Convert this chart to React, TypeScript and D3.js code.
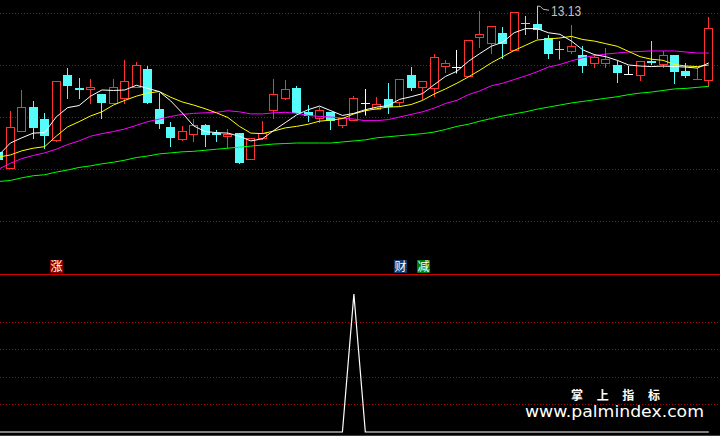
import React from "react";
import * as d3 from "d3";

// daily OHLC, oldest first (first bar is cut by the left edge)
const open = [
  10.33, 10.01, 10.73, 11.19, 10.96, 10.56, 11.81, 11.56, 11.53, 11.44,
  11.26, 11.37, 11.57, 11.92, 11.15, 10.81, 10.58, 10.68, 10.85, 10.7,
  10.64, 10.69, 10.2, 10.6, 11.14, 11.37, 11.56, 11.1, 10.99, 11.1,
  10.85, 10.95, 11.26, 11.16, 11.35, 11.29, 11.81, 11.58, 11.55, 11.99,
  11.96, 11.79, 12.53, 12.43, 12.62, 12.29, 12.81, 12.79, 12.52, 12.31,
  12.27, 12.19, 12.03, 12.04, 12.0, 11.83, 11.81, 12.08, 12.01, 12.19,
  11.88, 11.74, 11.72,
];
const high = [
  10.37, 11.12, 11.52, 11.31, 11.08, 11.69, 11.94, 11.75, 11.73, 11.44,
  11.73, 12.1, 12.06, 11.98, 11.46, 10.9, 10.83, 10.96, 10.87, 10.75,
  10.77, 10.69, 10.6, 10.92, 11.73, 11.71, 11.6, 11.23, 11.19, 11.1,
  10.99, 11.4, 11.54, 11.38, 11.65, 11.73, 11.96, 11.69, 12.21, 12.1,
  12.29, 12.48, 13.04, 12.75, 12.73, 13.02, 12.94, 13.13, 12.58, 12.46,
  12.77, 12.37, 12.22, 12.33, 12.08, 11.98, 12.08, 12.46, 12.27, 12.19,
  12.04, 11.94, 12.92,
];
const low = [
  10.13, 10.01, 10.73, 10.6, 10.4, 10.54, 11.37, 11.37, 11.26, 10.99,
  11.26, 11.27, 11.57, 11.26, 10.78, 10.45, 10.56, 10.54, 10.45, 10.54,
  10.43, 10.12, 10.2, 10.58, 10.99, 11.35, 11.07, 10.93, 10.91, 10.76,
  10.81, 10.95, 11.03, 11.16, 11.08, 11.22, 11.51, 11.35, 11.41, 11.87,
  11.85, 11.79, 12.35, 12.24, 12.14, 12.29, 12.6, 12.51, 12.14, 12.12,
  12.24, 11.87, 11.97, 11.97, 11.68, 11.83, 11.72, 12.02, 11.97, 11.66,
  11.76, 11.74, 11.6,
];
const close = [
  10.17, 10.81, 11.19, 10.79, 10.64, 11.69, 11.6, 11.51, 11.57, 11.27,
  11.57, 11.69, 12.0, 11.26, 10.87, 10.6, 10.73, 10.85, 10.66, 10.66,
  10.68, 10.12, 10.6, 10.69, 11.44, 11.54, 11.07, 11.01, 11.13, 10.93,
  10.99, 11.37, 11.26, 11.25, 11.2, 11.73, 11.56, 11.69, 12.15, 12.04,
  11.96, 12.48, 12.6, 12.75, 12.41, 13.02, 12.78, 12.68, 12.22, 12.3,
  12.37, 11.99, 12.15, 12.12, 11.85, 11.83, 12.08, 12.04, 12.19, 11.87,
  11.79, 11.75, 12.71,
];

// moving averages
const ma5 = [
  10.27, 10.5, 10.6, 10.69, 10.7, 11.0, 11.18, 11.22, 11.4, 11.52,
  11.51, 11.52, 11.61, 11.55, 11.49, 11.31, 11.08, 10.83, 10.72, 10.7,
  10.69, 10.63, 10.54, 10.58, 10.74, 10.89, 11.04, 11.14, 11.21, 11.12,
  11.03, 11.07, 11.14, 11.19, 11.22, 11.34, 11.39, 11.45, 11.62, 11.78,
  11.88, 12.07, 12.22, 12.36, 12.44, 12.62, 12.7, 12.7, 12.62, 12.59,
  12.46, 12.29, 12.2, 12.16, 12.09, 12.0, 11.98, 11.97, 11.98, 11.97,
  11.96, 11.94, 12.04,
];
const ma10 = [
  10.23, 10.27, 10.35, 10.4, 10.43, 10.63, 10.81, 10.91, 11.02, 11.1,
  11.23, 11.32, 11.4, 11.46, 11.49, 11.38, 11.29, 11.23, 11.16, 11.08,
  10.99, 10.82, 10.69, 10.68, 10.73, 10.79, 10.82, 10.86, 10.92, 10.94,
  10.97, 11.06, 11.12, 11.16, 11.19, 11.2, 11.24, 11.32, 11.44, 11.54,
  11.65, 11.77, 11.9, 12.04, 12.16, 12.28, 12.38, 12.48, 12.5, 12.52,
  12.55, 12.49, 12.46, 12.41, 12.36, 12.26, 12.16, 12.11, 12.09, 12.01,
  11.98, 11.97, 12.0,
];
const ma20 = [
  10.0, 10.11, 10.2, 10.26, 10.31, 10.38, 10.47, 10.54, 10.63, 10.68,
  10.72, 10.77, 10.84, 10.91, 10.96, 11.01, 11.05, 11.07, 11.08, 11.09,
  11.12, 11.1, 11.06, 11.06, 11.08, 11.09, 11.07, 11.03, 11.01, 11.0,
  10.98, 10.96, 10.93, 10.93, 10.95, 11.0, 11.05, 11.1, 11.17, 11.26,
  11.32, 11.43, 11.5, 11.6, 11.65, 11.72, 11.79, 11.87, 11.96, 12.01,
  12.08, 12.14, 12.18, 12.21, 12.23, 12.25, 12.26, 12.27, 12.27, 12.27,
  12.25, 12.23, 12.23,
];
const ma60 = [
  9.76, 9.78, 9.83, 9.87, 9.89, 9.94, 9.98, 10.03, 10.06, 10.1,
  10.13, 10.17, 10.22, 10.25, 10.29, 10.31, 10.33, 10.34, 10.36, 10.38,
  10.4, 10.42, 10.44, 10.46, 10.48, 10.49, 10.5, 10.5, 10.5, 10.5,
  10.52, 10.54, 10.56, 10.6, 10.62, 10.64, 10.66, 10.68, 10.71, 10.76,
  10.82, 10.86, 10.92, 10.97, 11.02, 11.06, 11.1, 11.15, 11.19, 11.23,
  11.27, 11.3, 11.33, 11.36, 11.39, 11.43, 11.46, 11.48, 11.51, 11.54,
  11.55, 11.57, 11.59,
];

// lower panel indicator
const signal = [
  0, 0, 0, 0, 0, 0, 0, 0, 0, 0,
  0, 0, 0, 0, 0, 0, 0, 0, 0, 0,
  0, 0, 0, 0, 0, 0, 0, 0, 0, 0,
  0, 100, 0, 0, 0, 0, 0, 0, 0, 0,
  0, 0, 0, 0, 0, 0, 0, 0, 0, 0,
  0, 0, 0, 0, 0, 0, 0, 0, 0, 0,
  0, 0, 0,
];

// text marks at the bottom of the price panel
const markIndex = [5, 35, 37];
const markText = ["涨", "财", "减"];

const priceTicks = [9, 10, 11, 12, 13];
const signalTicks = [20, 40, 60, 80];

const markBg: Record<string, string> = { 涨: "#8a0000", 财: "#0b3d73", 减: "#008000" };

const RED = "#ff3232";
const CYAN = "#54fcfc";
const GRID = "#b40000";

const W = 720;
const H = 436;

export default function App() {
  const n = open.length;
  const x = d3.scaleBand<number>().domain(d3.range(n)).range([-6.8, 714.55]);
  const cx = (i: number) => (x(i) as number) + x.bandwidth() / 2;
  const y = d3.scaleLinear().domain([9, 13]).range([221, 13]);
  const ys = d3.scaleLinear().domain([0, 100]).range([432, 294]);

  const maLine = d3
    .line<number>()
    .x((_, i) => cx(i))
    .y((d) => y(d));
  const sigLine = d3
    .line<number>()
    .x((_, i) => cx(i))
    .y((d) => ys(d));

  const bw = Math.round(x.bandwidth() * 0.78);
  const hiIdx = d3.maxIndex(high);

  const candles = open.map((o, i) => {
    const c = close[i];
    const left = Math.round(cx(i) - bw / 2);
    const wx = left + Math.floor(bw / 2) + 0.5;
    const yo = Math.round(y(o));
    const yc = Math.round(y(c));
    const yh = Math.round(y(high[i]));
    const yl = Math.round(y(low[i]));
    if (Math.abs(y(c) - y(o)) < 1) {
      const col = c > o ? RED : c < o ? CYAN : "#ffffff";
      return (
        <g key={i} stroke={col} strokeWidth={1}>
          <line x1={wx} x2={wx} y1={yh} y2={yl + 0.5} />
          <line x1={left} x2={left + bw} y1={yo + 0.5} y2={yo + 0.5} />
        </g>
      );
    }
    if (c > o) {
      return (
        <g key={i} stroke={RED} strokeWidth={1}>
          {yh < yc && <line x1={wx} x2={wx} y1={yh} y2={yc} />}
          {yl > yo && <line x1={wx} x2={wx} y1={yo} y2={yl + 1} />}
          <rect x={left + 0.5} y={yc + 0.5} width={bw - 1} height={yo - yc} fill="#000" />
        </g>
      );
    }
    return (
      <g key={i}>
        <line x1={wx} x2={wx} y1={yh} y2={yl + 1} stroke={CYAN} strokeWidth={1} />
        <rect x={left} y={yo} width={bw} height={Math.max(1, yc - yo)} fill={CYAN} />
      </g>
    );
  });

  const hx = cx(hiIdx);
  const hy = y(high[hiIdx]);

  return (
    <svg
      width={W}
      height={H}
      style={{ position: "absolute", left: 0, top: 0, display: "block", background: "#000" }}
    >
      <rect width={W} height={H} fill="#000" />
      {priceTicks.map((t) => (
        <line key={t} x1={0} x2={W} y1={Math.round(y(t)) + 0.5} y2={Math.round(y(t)) + 0.5} stroke={GRID} strokeDasharray="1 2" />
      ))}
      {signalTicks.map((t) => (
        <line key={t} x1={0} x2={W} y1={Math.round(ys(t)) + 0.5} y2={Math.round(ys(t)) + 0.5} stroke={GRID} strokeDasharray="1 2" />
      ))}
      <line x1={0} x2={W} y1={274.5} y2={274.5} stroke="#d00000" />
      <line x1={0} x2={W} y1={435.5} y2={435.5} stroke="#d00000" />

      {candles}

      <path d={maLine(ma60) ?? ""} fill="none" stroke="#00ff00" strokeWidth={1} />
      <path d={maLine(ma20) ?? ""} fill="none" stroke="#ff00ff" strokeWidth={1} />
      <path d={maLine(ma10) ?? ""} fill="none" stroke="#ffff00" strokeWidth={1} />
      <path d={maLine(ma5) ?? ""} fill="none" stroke="#ffffff" strokeWidth={1} />

      {/* highest price flag */}
      <path
        d={`M${hx},${hy} L${hx + 3},${hy} L${hx + 6},${hy + 3} L${hx + 12},${hy + 4}`}
        fill="none"
        stroke="#b8b8b8"
      />
      <text x={hx + 14} y={hy + 10} fontFamily="Liberation Sans, Arial, sans-serif" fontSize={14} fill="#c0c0c0" textLength={30} lengthAdjust="spacingAndGlyphs">
        {high[hiIdx].toFixed(2)}
      </text>

      {markIndex.map((mi, k) => (
        <g key={k}>
          <rect x={Math.round(cx(mi)) - 6} y={260} width={13} height={13} fill={markBg[markText[k]]} />
          <text x={Math.round(cx(mi)) + 0.5} y={271} textAnchor="middle" fontFamily="Noto Sans CJK SC" fontSize={12} fill="#ffffff">
            {markText[k]}
          </text>
        </g>
      ))}

      <path d={sigLine(signal) ?? ""} fill="none" stroke="#ffffff" strokeWidth={1.2} />

      <text x={571} y={399.5} fontFamily="Noto Sans CJK SC" fontWeight="bold" fontSize={12} fill="#ffffff" textLength={89} lengthAdjust="spacing">
        掌 上 指 标
      </text>
      <text x={525} y={417} fontFamily="DejaVu Sans, sans-serif" fontSize={15.5} fill="#ffffff" textLength={179} lengthAdjust="spacingAndGlyphs">
        www.palmindex.com
      </text>
    </svg>
  );
}
